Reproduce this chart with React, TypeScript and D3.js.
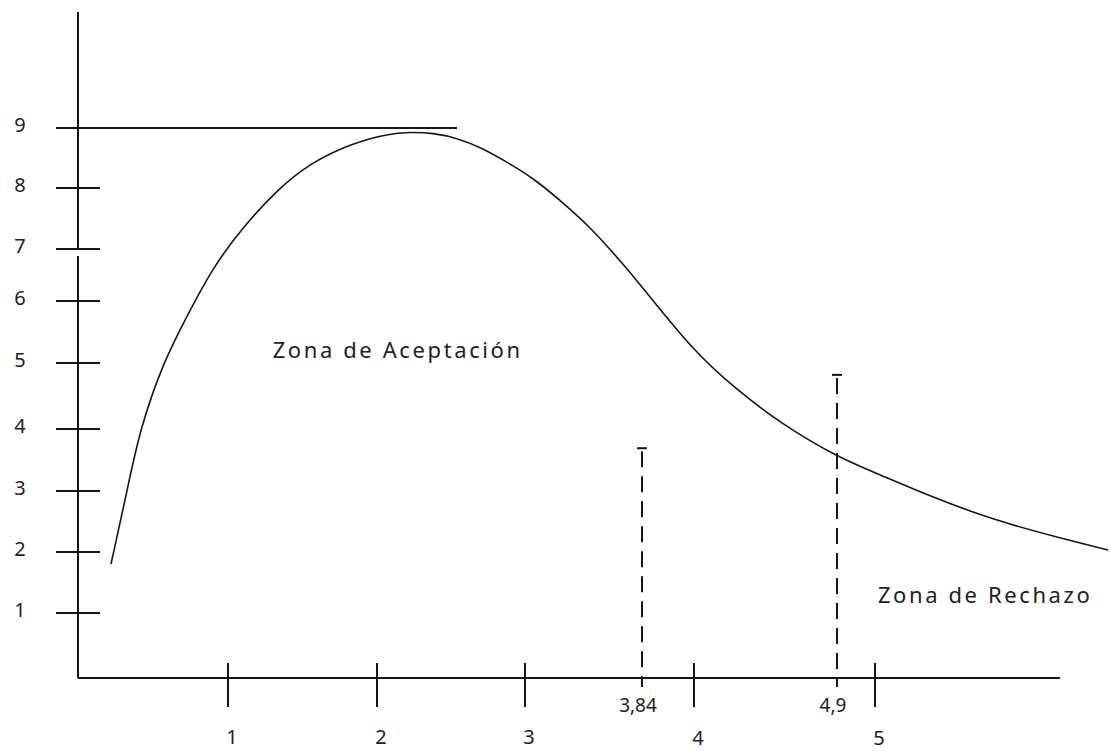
import React from "react";
import * as d3 from "d3";

// ---- data ----
const xTickValues = [1, 2, 3, 4, 5];
const yTickValues = [1, 2, 3, 4, 5, 6, 7, 8, 9];
const criticalValues = [3.84, 4.9];
const criticalLabels = ["3,84", "4,9"];
const criticalTops = [3.69, 4.82];
const peakLineEnd = 2.54;
const curveX = [0.22, 0.327, 0.413, 0.567, 0.713, 0.9, 1.101, 1.329, 1.55, 1.839, 2.068, 2.223, 2.378, 2.541, 2.696, 2.878, 3.057, 3.251, 3.467, 3.66, 3.826, 3.997, 4.271, 4.541, 4.9, 5.027, 5.284, 5.645, 6.011, 6.273];
const curveY = [1.803, 3.0, 4.0, 5.0, 5.694, 6.654, 7.361, 7.967, 8.417, 8.75, 8.9, 8.933, 8.917, 8.833, 8.683, 8.433, 8.167, 7.803, 7.361, 6.846, 6.327, 5.197, 4.591, 4.091, 3.548, 3.262, 2.934, 2.525, 2.23, 2.033];
const zoneLabels = ["Zona de Aceptación", "Zona de Rechazo"];
const zoneX = [1.3, 5.016];
const zoneY = [5.08, 1.16];

// ---- layout (hand-drawn, uneven axis spacing) ----
const W = 1110, H = 751;
const xDomain = [0, 1, 2, 3, 3.84, 4, 4.9, 5, 6];
const xRange = [78, 228, 377, 525, 642, 694, 837, 875, 1058];
const yDomain = [0, 1, 2, 3, 4, 5, 6, 7, 8, 9];
const yRange = [678, 613, 552, 491, 429, 363, 301, 249, 188, 128];

const INK = "#161616";
const TXT = "#222";
const FONT = "'Noto Sans', 'Open Sans', sans-serif";

export default function App() {
  const x = d3.scaleLinear().domain(xDomain).range(xRange);
  const y = d3.scaleLinear().domain(yDomain).range(yRange);
  const x0 = x(0), y0 = y(0);
  const pts: [number, number][] = curveX.map((v, i) => [x(v), y(curveY[i])]);
  const line = d3.line().curve(d3.curveBasis);
  const axisTop = 12;
  const axisRight = x(6.01);

  return (
    <svg width={W} height={H} style={{ position: "absolute", left: 0, top: 0, background: "#fff" }}>
      <rect width={W} height={H} fill="#fff" />
      {/* y axis (with small break below 7) */}
      <line x1={x0} x2={x0} y1={axisTop} y2={y(7)} stroke={INK} strokeWidth={2} />
      <line x1={x0} x2={x0} y1={y(7) + 7} y2={y0} stroke={INK} strokeWidth={2} />
      {/* x axis */}
      <line x1={x0} x2={axisRight} y1={y0} y2={y0} stroke={INK} strokeWidth={2} />
      {/* y ticks */}
      {yTickValues.map((v) => (
        <g key={"y" + v}>
          <line x1={x0 - 22} x2={v === 9 ? x(peakLineEnd) : x0 + 22} y1={y(v)} y2={y(v)} stroke={INK} strokeWidth={2} />
          <text x={20} y={y(v) + 4} textAnchor="middle" fontFamily={FONT} fontSize={20} fill={TXT}>
            {v}
          </text>
        </g>
      ))}
      {/* x ticks */}
      {xTickValues.map((v) => (
        <g key={"x" + v}>
          <line x1={x(v)} x2={x(v)} y1={y0 - 15} y2={y0 + 29} stroke={INK} strokeWidth={2} />
          <text x={x(v) + 4} y={y0 + (v >= 4 ? 67 : 66)} textAnchor="middle" fontFamily={FONT} fontSize={20} fill={TXT}>
            {v}
          </text>
        </g>
      ))}
      {/* critical values dashed lines */}
      {criticalValues.map((v, i) => (
        <g key={"c" + v}>
          <line x1={x(v) - 5} x2={x(v) + 5} y1={y(criticalTops[i])} y2={y(criticalTops[i])} stroke={INK} strokeWidth={2} />
          <line x1={x(v)} x2={x(v)} y1={y(criticalTops[i]) + 3} y2={y0 + 9} stroke={INK} strokeWidth={2} strokeDasharray="16,9" />
          <text x={x(v) - 4} y={y0 + 34} textAnchor="middle" fontFamily={FONT} fontSize={19} fill={TXT}>
            {criticalLabels[i]}
          </text>
        </g>
      ))}
      {/* curve */}
      <path d={line(pts) || ""} fill="none" stroke={INK} strokeWidth={1.6} />
      {/* zone labels */}
      {zoneLabels.map((t, i) => (
        <text key={t} x={x(zoneX[i])} y={y(zoneY[i])} fontFamily={FONT} fontSize={22} letterSpacing={2.6} fill={TXT}>
          {t}
        </text>
      ))}
    </svg>
  );
}
